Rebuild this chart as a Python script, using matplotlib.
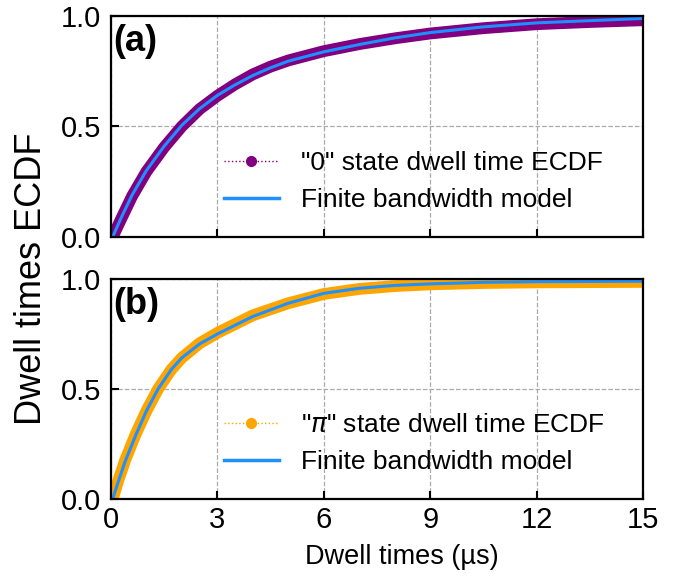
import matplotlib.pyplot as plt
from matplotlib.lines import Line2D

plt.rcParams['font.family'] = ['Liberation Sans', 'DejaVu Sans']
plt.rcParams['mathtext.fontset'] = 'dejavusans'

# (a) "0" state
x_a = [0.05, 0.3, 0.6, 1.0, 1.5, 2.0, 2.5, 3.0, 3.5, 4.0, 4.5, 5.0, 6.0, 7.0, 8.0, 9.0, 10.5, 12.0, 13.5, 15.0]
ecdf_a = [0.0, 0.085, 0.185, 0.295, 0.405, 0.50, 0.578, 0.638, 0.69, 0.735, 0.77, 0.798, 0.84, 0.872, 0.898, 0.92, 0.944, 0.962, 0.972, 0.98]
model_a = [0.0, 0.09, 0.19, 0.30, 0.41, 0.505, 0.58, 0.64, 0.688, 0.73, 0.765, 0.795, 0.837, 0.87, 0.90, 0.924, 0.95, 0.968, 0.978, 0.988]

# (b) "pi" state
x_b = [0.05, 0.2, 0.4, 0.7, 1.0, 1.33, 1.7, 2.0, 2.5, 3.0, 3.5, 4.0, 5.0, 6.0, 7.0, 8.0, 9.0, 10.5, 12.0, 15.0]
ecdf_b = [0.0, 0.08, 0.175, 0.295, 0.40, 0.50, 0.588, 0.642, 0.708, 0.755, 0.795, 0.835, 0.89, 0.932, 0.955, 0.968, 0.976, 0.982, 0.985, 0.987]
model_b = [0.0, 0.075, 0.17, 0.29, 0.40, 0.50, 0.588, 0.642, 0.705, 0.75, 0.79, 0.83, 0.89, 0.935, 0.958, 0.971, 0.978, 0.985, 0.988, 0.99]

xticks = [0, 3, 6, 9, 12, 15]
yticks = [0.0, 0.5, 1.0]
ytick_labels = ['0.0', '0.5', '1.0']

fig = plt.figure(figsize=(6.93, 5.85), dpi=100)
ax1 = fig.add_axes([0.160, 0.595, 0.768, 0.378])
ax2 = fig.add_axes([0.160, 0.147, 0.768, 0.376])

panels = [
    (ax1, x_a, ecdf_a, model_a, 'purple', '"0" state dwell time ECDF', '(a)'),
    (ax2, x_b, ecdf_b, model_b, 'orange', '"$\\pi$" state dwell time ECDF', '(b)'),
]

for ax, x, e, m, c, lab, tag in panels:
    # ECDF drawn as dense dots -> thick band
    ax.plot(x, e, color=c, lw=8.5, solid_capstyle='butt', solid_joinstyle='round')
    ax.plot(x, m, color='#1E90FF', lw=2.2)
    ax.set_xlim(0, 15)
    ax.set_ylim(0, 1)
    ax.set_xticks(xticks)
    ax.set_yticks(yticks)
    ax.set_yticklabels(ytick_labels)
    ax.grid(color='#aaaaaa', linestyle='--', linewidth=0.9)
    ax.tick_params(direction='in', length=6, width=1.5, labelsize=21, pad=7)
    for s in ax.spines.values():
        s.set_linewidth(1.6)
    handles = [Line2D([], [], color=c, ls=':', lw=1, marker='o', ms=7),
               Line2D([], [], color='#1E90FF', lw=2.5)]
    ax.legend(handles, [lab, 'Finite bandwidth model'], loc='lower left',
              bbox_to_anchor=(0.167, 0.004), frameon=False, fontsize=19,
              handlelength=2.1, handletextpad=0.85, labelspacing=0.5,
              numpoints=1)
    ax.text(0.005, 0.964, tag, transform=ax.transAxes, fontsize=26,
            fontweight='bold', va='top', ha='left')

ax1.tick_params(labelbottom=False)
ax2.tick_params(axis='x', pad=5)

fig.text(0.58, 0.048, 'Dwell times (µs)', ha='center', va='center', fontsize=19.5)
fig.text(0.045, 0.523, 'Dwell times ECDF', ha='center', va='center',
         rotation=90, fontsize=26)

fig.savefig('out.png', dpi=100)
